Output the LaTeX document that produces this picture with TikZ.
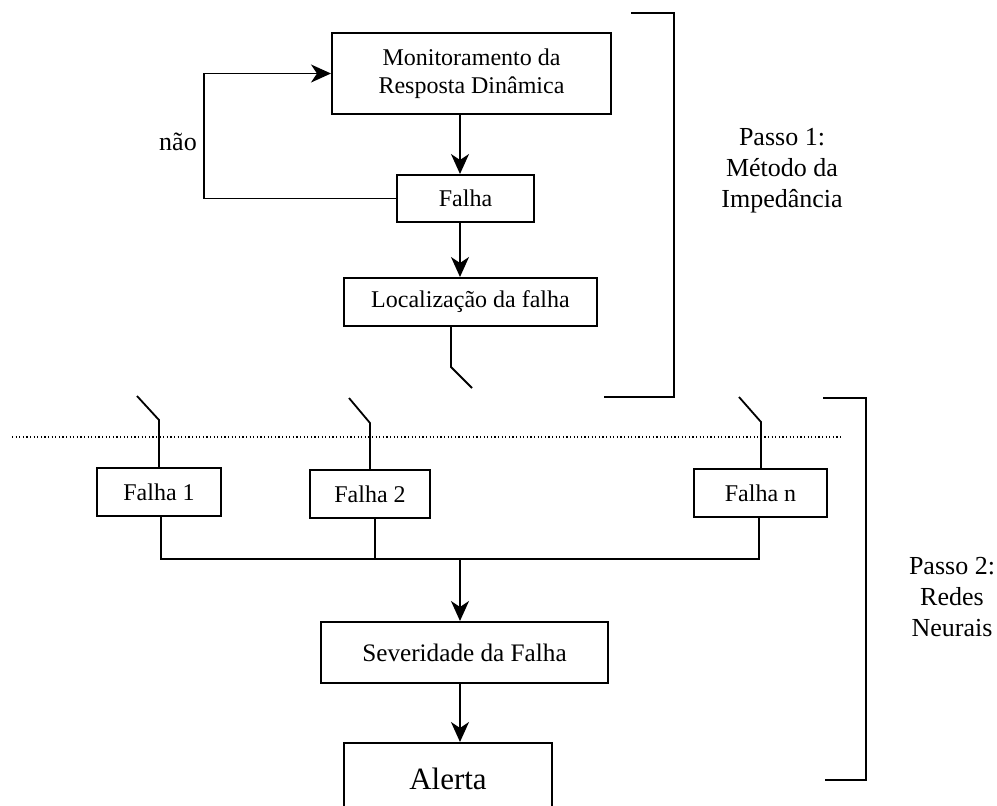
\documentclass[tikz,border=0pt]{standalone}
\usepackage{fontspec}
\setmainfont{Liberation Serif}
\usetikzlibrary{arrows.meta}
\begin{document}
\begin{tikzpicture}[x=0.5pt,y=-0.5pt,
  box/.style={draw,line width=1pt,inner sep=0pt,font=\fontsize{12}{13.8}\selectfont,align=center},
  arr/.style={line width=0.9pt,-{Stealth[length=10pt,width=9pt,inset=3pt]}},
  wire/.style={line width=0.9pt},
  brk/.style={line width=1pt},
  lbl/.style={inner sep=0pt,align=center,font=\fontsize{13}{15.5}\selectfont},
  sep/.style={line width=0.6pt,dash pattern=on 0.6pt off 1.2pt}]
\clip (0,0) rectangle (997,805);
\useasboundingbox (0,0) rectangle (997,805);
% top column
\node[box,minimum width=139.5pt,minimum height=40.5pt] (mon) at (471.5,73.5) {Monitoramento da\\Resposta Dinâmica};
\node[box,minimum width=68.5pt,minimum height=23.5pt] (fal) at (465.5,198.5) {Falha};
\node[box,minimum width=126.5pt,minimum height=24pt] (loc) at (470.5,302) {Localização da falha};
\coordinate (ax) at (460,0);
\coordinate (loopL) at (204,0);
\draw[arr] (mon.south -| ax) -- (fal.north -| ax);
\draw[arr] (fal.south -| ax) -- (loc.north -| ax);
\draw[arr] (fal.west) -- (fal.west -| loopL) -- (mon.west -| loopL) -- (mon.west);
\node[lbl] (nao) at (178,142) {não};
% switch under localizacao
\coordinate (s0a) at (451,367);
\coordinate (s0b) at (472,388);
\draw[wire] (loc.south -| s0a) -- (s0a) -- (s0b);
% separator
\coordinate (sepL) at (12,437);
\coordinate (sepR) at (842,437);
\draw[sep] (sepL) -- (sepR);
% fault boxes
\node[box,minimum width=62pt,minimum height=24pt] (f1) at (159,492) {Falha 1};
\node[box,minimum width=60pt,minimum height=24pt] (f2) at (370,494) {Falha 2};
\node[box,minimum width=66.5pt,minimum height=24pt] (fn) at (760.5,493) {Falha n};
\coordinate (s1b) at (137,396);
\coordinate (s1a) at (159,420);
\coordinate (s2b) at (349,398);
\coordinate (s2a) at (370,423);
\coordinate (snb) at (739,397);
\coordinate (sna) at (761,422);
\draw[wire] (s1b) -- (s1a) -- (f1.north -| s1a);
\draw[wire] (s2b) -- (s2a) -- (f2.north -| s2a);
\draw[wire] (snb) -- (sna) -- (fn.north -| sna);
% bus
\coordinate (bus) at (460,559);
\coordinate (b1) at (161,0);
\coordinate (b2) at (375,0);
\coordinate (bn) at (759,0);
\draw[wire] (f1.south -| b1) -- (bus -| b1) -- (bus -| bn) -- (fn.south -| bn);
\draw[wire] (f2.south -| b2) -- (bus -| b2);
\node[box,minimum width=143.5pt,minimum height=30.5pt,font=\fontsize{12.6}{14}\selectfont] (sev) at (464.5,652.5) {Severidade da Falha};
\draw[arr] (bus) -- (sev.north -| bus);
\node[box,minimum width=104pt,minimum height=36pt,font=\fontsize{15.5}{17}\selectfont] (ale) at (448,779) {Alerta};
\draw[arr] (sev.south -| ax) -- (ale.north -| ax);
% brackets
\coordinate (k1a) at (631,13);
\coordinate (k1b) at (674,13);
\coordinate (k1c) at (674,397);
\coordinate (k1d) at (604,397);
\draw[brk] (k1a) -- (k1b) -- (k1c) -- (k1d);
\coordinate (k2a) at (823,398);
\coordinate (k2b) at (866,398);
\coordinate (k2c) at (866,780);
\coordinate (k2d) at (825,780);
\draw[brk] (k2a) -- (k2b) -- (k2c) -- (k2d);
\node[lbl] (p1) at (782,171) {Passo 1:\\Método da\\Impedância};
\node[lbl] (p2) at (952,597) {Passo 2:\\Redes\\Neurais};
\end{tikzpicture}
\end{document}
